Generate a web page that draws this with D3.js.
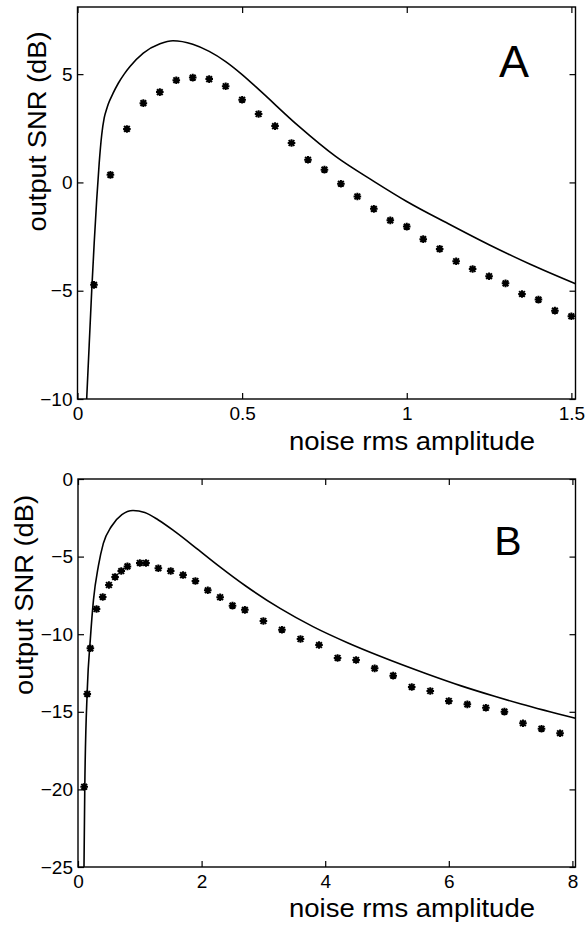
<!DOCTYPE html>
<html>
<head>
<meta charset="utf-8">
<script src="https://cdn.jsdelivr.net/npm/d3@7"></script>
<style>
  body { margin: 0; background: #fff; }
  text { font-family: "Liberation Sans", Arial, Helvetica, sans-serif; fill: #000; }
</style>
</head>
<body>
<svg width="585" height="925" id="mainsvg"></svg>
<script>
// ---- data ----
// panel A: simulated points (asterisks)
const noiseA = [0.05, 0.10, 0.15, 0.20, 0.25, 0.30, 0.35, 0.40, 0.45, 0.50,
                0.55, 0.60, 0.65, 0.70, 0.75, 0.80, 0.85, 0.90, 0.95, 1.00,
                1.05, 1.10, 1.15, 1.20, 1.25, 1.30, 1.35, 1.40, 1.45, 1.50];
const snrA = [-4.73, 0.35, 2.47, 3.66, 4.17, 4.72, 4.84, 4.77, 4.44, 3.82,
              3.16, 2.60, 1.82, 1.05, 0.59, -0.06, -0.65, -1.22, -1.75, -2.04,
              -2.62, -3.07, -3.64, -4.00, -4.33, -4.66, -5.15, -5.41, -5.92, -6.18];
// panel A: theory curve
const curveAx = [0.0279, 0.0355, 0.0431, 0.0507, 0.0583, 0.0659, 0.0735, 0.0811, 0.0886, 0.0935,
                 0.1078, 0.1239, 0.1412, 0.1594, 0.1998, 0.2505, 0.29, 0.35, 0.40, 0.45,
                 0.50, 0.557, 0.67, 0.784, 0.90, 1.00, 1.125, 1.25, 1.375, 1.5125];
const curveAy = [-10.0, -7.51, -5.01, -2.80, -0.81, 0.90, 2.19, 2.98, 3.39, 3.62,
                 4.11, 4.58, 4.99, 5.35, 5.97, 6.40, 6.54, 6.38, 6.05, 5.58,
                 4.98, 4.20, 2.62, 1.20, 0.05, -0.88, -1.90, -2.88, -3.78, -4.68];

// panel B: simulated points
const noiseB = [0.1, 0.15, 0.2, 0.3, 0.4, 0.5, 0.6, 0.7, 0.8, 1.0, 1.1, 1.3, 1.5,
                1.7, 1.9, 2.1, 2.3, 2.5, 2.7, 3.0, 3.3, 3.6, 3.9, 4.2, 4.5, 4.8,
                5.1, 5.4, 5.7, 6.0, 6.3, 6.6, 6.9, 7.2, 7.5, 7.8];
const snrB = [-19.83, -13.85, -10.91, -8.38, -7.60, -6.83, -6.31, -5.93, -5.63, -5.41, -5.41, -5.75, -5.93,
              -6.19, -6.57, -7.17, -7.62, -8.16, -8.43, -9.15, -9.71, -10.31, -10.70, -11.53, -11.66, -12.20,
              -12.67, -13.40, -13.66, -14.30, -14.52, -14.74, -14.99, -15.74, -16.09, -16.38];
// panel B: theory curve
const curveBx = [0.097, 0.11, 0.15, 0.20, 0.25, 0.33, 0.41, 0.54, 0.71, 0.89,
                 1.08, 1.30, 1.57, 1.95, 2.27, 2.72, 3.27, 3.81, 4.36, 4.90,
                 5.66, 6.20, 6.74, 7.17, 8.05];
const curveBy = [-25.0, -19.8, -13.6, -10.3, -7.8, -5.6, -4.15, -3.06, -2.30, -2.03,
                 -2.16, -2.64, -3.39, -4.57, -5.58, -6.91, -8.34, -9.53, -10.55, -11.44,
                 -12.58, -13.33, -14.00, -14.50, -15.42];

const ticksAx = [0, 0.5, 1, 1.5];
const ticksAy = [-10, -5, 0, 5];
const ticksBx = [0, 2, 4, 6, 8];
const ticksBy = [-25, -20, -15, -10, -5, 0];

const xLabel = 'noise rms amplitude';
const yLabel = 'output SNR (dB)';

// ---- layout ----
const svg = d3.select('svg');
const panels = [
  { key: 'A', left: 77.5, right: 575.5, top: 7, bottom: 399,
    xDomain: [0, 1.5125], yDomain: [-10, 8.1], xTicks: ticksAx, yTicks: ticksAy,
    px: noiseA, py: snrA, cx: curveAx, cy: curveAy,
    letter: { x: 514, y: 77, size: 45 }, yl: { x: 46, y: 131.5 }, xlY: 450 },
  { key: 'B', left: 78, right: 575.5, top: 479, bottom: 867,
    xDomain: [0, 8.05], yDomain: [-25, 0], xTicks: ticksBx, yTicks: ticksBy,
    px: noiseB, py: snrB, cx: curveBx, cy: curveBy,
    letter: { x: 508, y: 555, size: 41 }, yl: { x: 32.5, y: 595 }, xlY: 917 }
];

const fmt = d3.format('~g');
const asterisk = r => {
  const p = d3.path(), d = r * 0.75;
  p.moveTo(-r, 0); p.lineTo(r, 0);
  p.moveTo(0, -r); p.lineTo(0, r);
  p.moveTo(-d, -d); p.lineTo(d, d);
  p.moveTo(-d, d); p.lineTo(d, -d);
  return p.toString();
};

panels.forEach(P => {
  const w = P.right - P.left, h = P.bottom - P.top;
  const xScale = d3.scaleLinear().domain(P.xDomain).range([0, w]);
  const yScale = d3.scaleLinear().domain(P.yDomain).range([h, 0]);
  const g = svg.append('g').attr('transform', `translate(${P.left}, ${P.top})`);

  g.append('clipPath').attr('id', 'clip' + P.key)
    .append('rect').attr('width', w).attr('height', h);

  // axes (ticks inside the box, like MATLAB)
  const styleAxis = sel => {
    sel.select('.domain').remove();
    sel.selectAll('.tick line').attr('stroke', '#000').attr('stroke-width', 1.2);
    sel.selectAll('.tick text').attr('font-size', 19).attr('fill', '#000')
      .style('font-family', '"Liberation Sans", Arial, sans-serif');
  };
  g.append('g').attr('transform', `translate(0, ${h})`)
    .call(d3.axisBottom(xScale).tickValues(P.xTicks).tickFormat(fmt).tickSize(-6).tickPadding(8))
    .call(styleAxis);
  g.append('g')
    .call(d3.axisTop(xScale).tickValues(P.xTicks).tickFormat('').tickSize(-6))
    .call(styleAxis);
  g.append('g')
    .call(d3.axisLeft(yScale).tickValues(P.yTicks).tickFormat(fmt).tickSize(-6).tickPadding(5))
    .call(styleAxis);
  g.append('g').attr('transform', `translate(${w}, 0)`)
    .call(d3.axisRight(yScale).tickValues(P.yTicks).tickFormat('').tickSize(-6))
    .call(styleAxis);

  // frame
  g.append('rect').attr('width', w).attr('height', h)
    .attr('fill', 'none').attr('stroke', '#000').attr('stroke-width', 1.4);

  // theory curve
  const lineData = P.cx.map((x, i) => ({ x, y: P.cy[i] }));
  g.append('path').datum(lineData)
    .attr('clip-path', `url(#clip${P.key})`)
    .attr('fill', 'none').attr('stroke', '#000').attr('stroke-width', 1.6)
    .attr('d', d3.line().x(d => xScale(d.x)).y(d => yScale(d.y)).curve(d3.curveMonotoneX));

  // simulation points
  const ptData = P.px.map((x, i) => ({ x, y: P.py[i] }));
  g.selectAll('.pt').data(ptData).join('path')
    .attr('class', 'pt')
    .attr('transform', d => `translate(${xScale(d.x)}, ${yScale(d.y)})`)
    .attr('d', asterisk(3.8))
    .attr('fill', 'none').attr('stroke', '#000').attr('stroke-width', 2);

  // panel letter
  svg.append('text').attr('x', P.letter.x).attr('y', P.letter.y)
    .attr('text-anchor', 'middle').attr('font-size', P.letter.size).text(P.key);

  // axis labels
  svg.append('text').attr('x', 535).attr('y', P.xlY)
    .attr('text-anchor', 'end').attr('font-size', 25)
    .attr('textLength', 246).attr('lengthAdjust', 'spacingAndGlyphs')
    .text(xLabel);
  svg.append('text')
    .attr('transform', `translate(${P.yl.x}, ${P.yl.y}) rotate(-90)`)
    .attr('text-anchor', 'middle').attr('font-size', 25)
    .attr('textLength', 200).attr('lengthAdjust', 'spacingAndGlyphs')
    .text(yLabel);
});
</script>
</body>
</html>
